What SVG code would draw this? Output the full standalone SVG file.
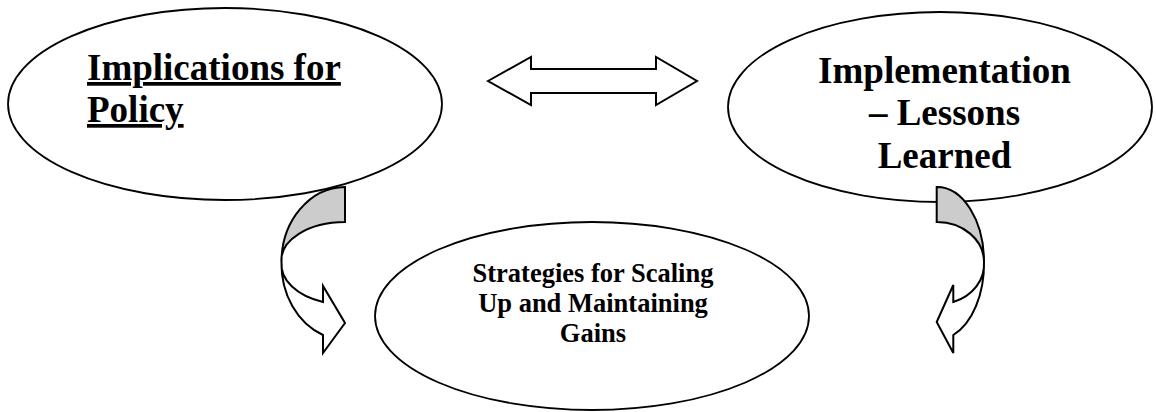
<svg xmlns="http://www.w3.org/2000/svg" width="1156" height="412" viewBox="0 0 1156 412">
<style>
.node{fill:#ffffff;stroke:#000000;stroke-width:1.8}
.shape{fill:#ffffff;stroke:#000000;stroke-width:2;stroke-linejoin:miter}
.back{fill:#cccccc;stroke:#000000;stroke-width:2}
.big{font-family:"Liberation Serif","Times New Roman",serif;font-weight:bold;font-size:37px;fill:#000}
.ul{text-decoration:underline;text-decoration-thickness:3px}
.small{font-family:"Liberation Serif","Times New Roman",serif;font-weight:bold;font-size:26.5px;fill:#000}
</style>
<rect width="1156" height="412" fill="#ffffff"/>
<g id="node-policy">
<ellipse class="node" cx="225" cy="104" rx="217" ry="96"/>
<text class="big ul" x="87" y="80">Implications for</text>
<text class="big ul" x="87" y="122">Policy</text>
</g>
<g id="node-implementation">
<ellipse class="node" cx="940" cy="107" rx="212" ry="95"/>
<text class="big" text-anchor="middle" x="944.5" y="83">Implementation</text>
<text class="big" text-anchor="middle" x="944.5" y="125">– Lessons</text>
<text class="big" text-anchor="middle" x="944.5" y="168">Learned</text>
</g>
<g id="node-strategies">
<ellipse class="node" cx="592" cy="316" rx="217" ry="94"/>
<text class="small" text-anchor="middle" x="593" y="282">Strategies for Scaling</text>
<text class="small" text-anchor="middle" x="593" y="312">Up and Maintaining</text>
<text class="small" text-anchor="middle" x="593" y="342">Gains</text>
</g>
<g id="connectors">
<polygon class="shape" points="488,81 531,57 531,69 656,69 656,57 697,81 656,105 656,93 531,93 531,105"/>
<g id="curved-left">
<path class="back" d="M 345,187 A 64 75 0 0 0 281.5,262 A 63.5 38 0 0 1 345,222 Z"/>
<path class="shape" d="M 281.5,262 A 64 76 0 0 0 323,335 L 323,353 L 345,323 L 323,286 L 323,302 A 63.5 40 0 0 1 281.5,262 Z"/>
</g>
<g id="curved-right">
<path class="back" d="M 936.7,187 A 47 75 0 0 1 984,262 A 47 40 0 0 0 936.7,222 Z"/>
<path class="shape" d="M 984,262 A 47 76 0 0 1 953.3,335 L 953.3,353 L 936.7,322 L 953.3,285 L 953.3,302 A 47 40 0 0 0 984,262 Z"/>
</g>
</g>
</svg>
